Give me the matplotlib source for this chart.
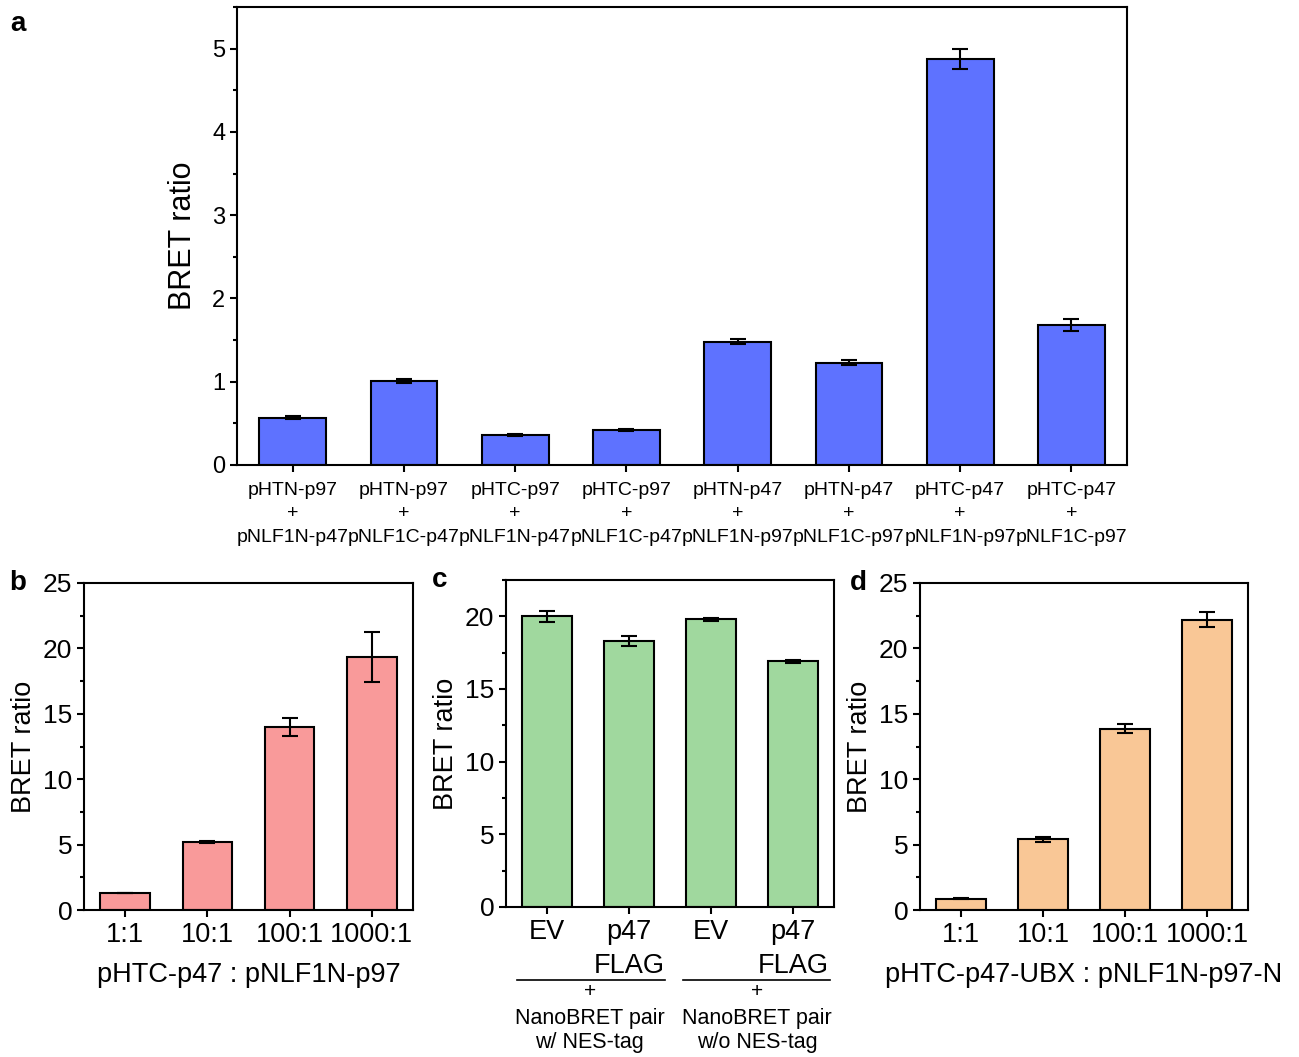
import numpy as np
import matplotlib.pyplot as plt

plt.rcParams['font.family'] = ['Liberation Sans', 'DejaVu Sans']

# panel a
a_labels = ['pHTN-p97\n+\npNLF1N-p47', 'pHTN-p97\n+\npNLF1C-p47',
            'pHTC-p97\n+\npNLF1N-p47', 'pHTC-p97\n+\npNLF1C-p47',
            'pHTN-p47\n+\npNLF1N-p97', 'pHTN-p47\n+\npNLF1C-p97',
            'pHTC-p47\n+\npNLF1N-p97', 'pHTC-p47\n+\npNLF1C-p97']
a_vals = [0.57, 1.01, 0.36, 0.42, 1.48, 1.23, 4.88, 1.68]
a_err = [0.02, 0.02, 0.015, 0.01, 0.03, 0.03, 0.12, 0.07]

# panel b
b_labels = ['1:1', '10:1', '100:1', '1000:1']
b_vals = [1.3, 5.2, 14.0, 19.35]
b_err = [0.03, 0.1, 0.7, 1.9]

# panel c
c_labels = ['EV', 'p47\nFLAG', 'EV', 'p47\nFLAG']
c_vals = [20.0, 18.28, 19.8, 16.9]
c_err = [0.4, 0.35, 0.1, 0.1]
c_groups = ['NanoBRET pair\nw/ NES-tag', 'NanoBRET pair\nw/o NES-tag']

# panel d
d_labels = ['1:1', '10:1', '100:1', '1000:1']
d_vals = [0.85, 5.4, 13.85, 22.2]
d_err = [0.03, 0.2, 0.35, 0.6]

W, H = 1299, 1057
fig = plt.figure(figsize=(W / 100, H / 100), dpi=100)


def box(l, t, r, b):
    return [l / W, 1 - b / H, (r - l) / W, (b - t) / H]


def bars(ax, labels, vals, err, color, ylim, major, minor, tfs, lfs, xfs, ls=1.2, xpad=3.5):
    x = np.arange(len(vals))
    ax.bar(x, vals, width=0.6, color=color, edgecolor='black', linewidth=1.5, zorder=2)
    ax.errorbar(x, vals, yerr=err, fmt='none', ecolor='black', elinewidth=1.5,
                capsize=6, capthick=1.5, zorder=3)
    ax.set_xlim(-0.5, len(vals) - 0.5)
    ax.set_ylim(*ylim)
    ax.set_yticks(np.arange(0, ylim[1] + 0.01, major))
    ax.set_yticks(np.arange(0, ylim[1] + 0.01, minor), minor=True)
    ax.set_xticks(x)
    ax.set_xticklabels(labels, fontsize=xfs, linespacing=ls)
    ax.tick_params(axis='y', which='major', direction='out', length=5, width=1.5, labelsize=tfs)
    ax.tick_params(axis='y', which='minor', direction='out', length=3, width=1.5)
    ax.tick_params(axis='x', direction='out', length=5, width=1.5, pad=xpad)
    for s in ax.spines.values():
        s.set_linewidth(1.5)
    ax.set_ylabel('BRET ratio', fontsize=lfs)


ax_a = fig.add_axes(box(237, 7, 1127, 465))
bars(ax_a, a_labels, a_vals, a_err, '#5E72FF', (0, 5.5), 1, 0.5, 17, 22, 14, ls=1.5, xpad=7)
ax_a.yaxis.labelpad = 10

ax_b = fig.add_axes(box(84, 583, 413, 910))
bars(ax_b, b_labels, b_vals, b_err, '#F99A9A', (0, 25), 5, 2.5, 19, 19.5, 19.5)
ax_b.set_xlabel('pHTC-p47 : pNLF1N-p97', fontsize=19.5, labelpad=10)

ax_c = fig.add_axes(box(506, 580, 834, 907))
bars(ax_c, c_labels, c_vals, c_err, '#A0D89E', (0, 22.5), 5, 2.5, 19, 19.5, 19.5, ls=1.4)
tr = ax_c.get_xaxis_transform()
for x0, x1, xc, g in [(-0.37, 1.44, 0.52, c_groups[0]), (1.66, 3.45, 2.56, c_groups[1])]:
    ax_c.plot([x0, x1], [-0.223, -0.223], color='black', lw=1.2, transform=tr, clip_on=False)
    ax_c.text(xc, -0.258, '+', transform=tr, ha='center', va='center', fontsize=15)
    for k, line in enumerate(g.split('\n')):
        ax_c.text(xc, -0.340 - 0.074 * k, line, transform=tr, ha='center', va='center',
                  fontsize=15.5)

ax_d = fig.add_axes(box(920, 583, 1248, 910))
bars(ax_d, d_labels, d_vals, d_err, '#F9C796', (0, 25), 5, 2.5, 19, 19.5, 19.5)
ax_d.set_xlabel('pHTC-p47-UBX : pNLF1N-p97-N', fontsize=19.5, labelpad=10)

for lab, px, py in [('a', 18, 24), ('b', 18, 583), ('c', 440, 580), ('d', 858, 583)]:
    fig.text(px / W, 1 - py / H, lab, fontsize=20, fontweight='bold', ha='center', va='center')

fig.savefig('out.png', dpi=100)
